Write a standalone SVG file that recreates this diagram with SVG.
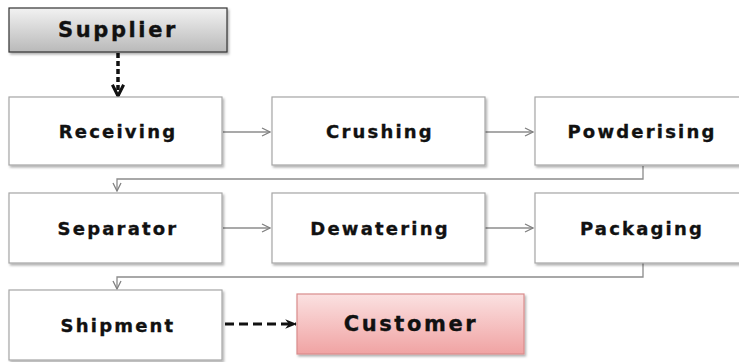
<svg xmlns="http://www.w3.org/2000/svg" width="739" height="362" viewBox="0 0 739 362">
<defs>
<linearGradient id="gGray" x1="0" y1="0" x2="0" y2="1"><stop offset="0" stop-color="#f2f2f2"/><stop offset="1" stop-color="#b9b9b9"/></linearGradient>
<linearGradient id="gPink" x1="0" y1="0" x2="0" y2="1"><stop offset="0" stop-color="#fbe1e1"/><stop offset="1" stop-color="#f0a3a3"/></linearGradient>
<filter id="sh" x="-5%" y="-5%" width="115%" height="125%"><feDropShadow dx="1.5" dy="2" stdDeviation="1.2" flood-color="#000" flood-opacity="0.3"/></filter>
<marker id="open" viewBox="0 0 10 10" refX="9" refY="5" markerWidth="10" markerHeight="10" markerUnits="userSpaceOnUse" orient="auto"><path d="M1,1 L9,5 L1,9" fill="none" stroke="#808080" stroke-width="1.3"/></marker>
<marker id="openBlk" viewBox="0 0 10 10" refX="9" refY="5" markerWidth="14" markerHeight="14" markerUnits="userSpaceOnUse" orient="auto"><path d="M1,1 L9,5 L1,9" fill="none" stroke="#111" stroke-width="2.2"/></marker>
<marker id="fillBlk" viewBox="0 0 10 10" refX="9" refY="5" markerWidth="12" markerHeight="12" markerUnits="userSpaceOnUse" orient="auto"><path d="M0,1 L10,5 L0,9 L3,5 Z" fill="#111"/></marker>
</defs>
<style>
.box{fill:#fff;stroke:#a6a6a6;stroke-width:1.2;filter:url(#sh)}
.lbl{font-family:"DejaVu Sans",Verdana,sans-serif;font-weight:bold;font-size:18px;letter-spacing:2.2px;fill:#111;stroke:#111;stroke-width:0.35;text-anchor:middle;dominant-baseline:central}
.big{font-size:21px;letter-spacing:2.6px}
.con{fill:none;stroke:#8c8c8c;stroke-width:1.3}
</style>
<rect width="739" height="362" fill="#fff"/>
<g id="connectors">
<line x1="118" y1="53" x2="118" y2="96" stroke="#111" stroke-width="3.5" stroke-dasharray="5,3" marker-end="url(#openBlk)"/>
<line class="con" x1="223" y1="132" x2="270" y2="132" marker-end="url(#open)"/>
<line class="con" x1="485" y1="132" x2="533" y2="132" marker-end="url(#open)"/>
<polyline class="con" points="643,166 643,179 117,179 117,191" marker-end="url(#open)"/>
<line class="con" x1="223" y1="228" x2="270" y2="228" marker-end="url(#open)"/>
<line class="con" x1="485" y1="228" x2="533" y2="228" marker-end="url(#open)"/>
<polyline class="con" points="643,263 643,277 117,277 117,289" marker-end="url(#open)"/>
<line x1="225" y1="324" x2="296" y2="324" stroke="#111" stroke-width="3" stroke-dasharray="9,5" marker-end="url(#fillBlk)"/>
</g>
<g id="supplier"><rect x="9" y="8" width="218" height="44" fill="url(#gGray)" stroke="#333" stroke-width="1.2" filter="url(#sh)"/><text class="lbl big" x="118" y="30">Supplier</text></g>
<g id="receiving"><rect class="box" x="9" y="97" width="213" height="68"/><text class="lbl" x="118" y="131">Receiving</text></g>
<g id="crushing"><rect class="box" x="272" y="97" width="213" height="68"/><text class="lbl" x="380" y="131">Crushing</text></g>
<g id="powderising"><rect class="box" x="535" y="97" width="212" height="68"/><text class="lbl" x="642" y="131">Powderising</text></g>
<g id="separator"><rect class="box" x="9" y="193" width="213" height="70"/><text class="lbl" x="118" y="228">Separator</text></g>
<g id="dewatering"><rect class="box" x="272" y="193" width="213" height="70"/><text class="lbl" x="380" y="228">Dewatering</text></g>
<g id="packaging"><rect class="box" x="535" y="193" width="212" height="70"/><text class="lbl" x="642" y="228">Packaging</text></g>
<g id="shipment"><rect class="box" x="9" y="290" width="213" height="70"/><text class="lbl" x="118" y="325">Shipment</text></g>
<g id="customer"><rect x="297" y="294" width="227" height="60" fill="url(#gPink)" stroke="#d98c8c" stroke-width="1.2" filter="url(#sh)"/><text class="lbl big" x="411" y="324">Customer</text></g>
</svg>
